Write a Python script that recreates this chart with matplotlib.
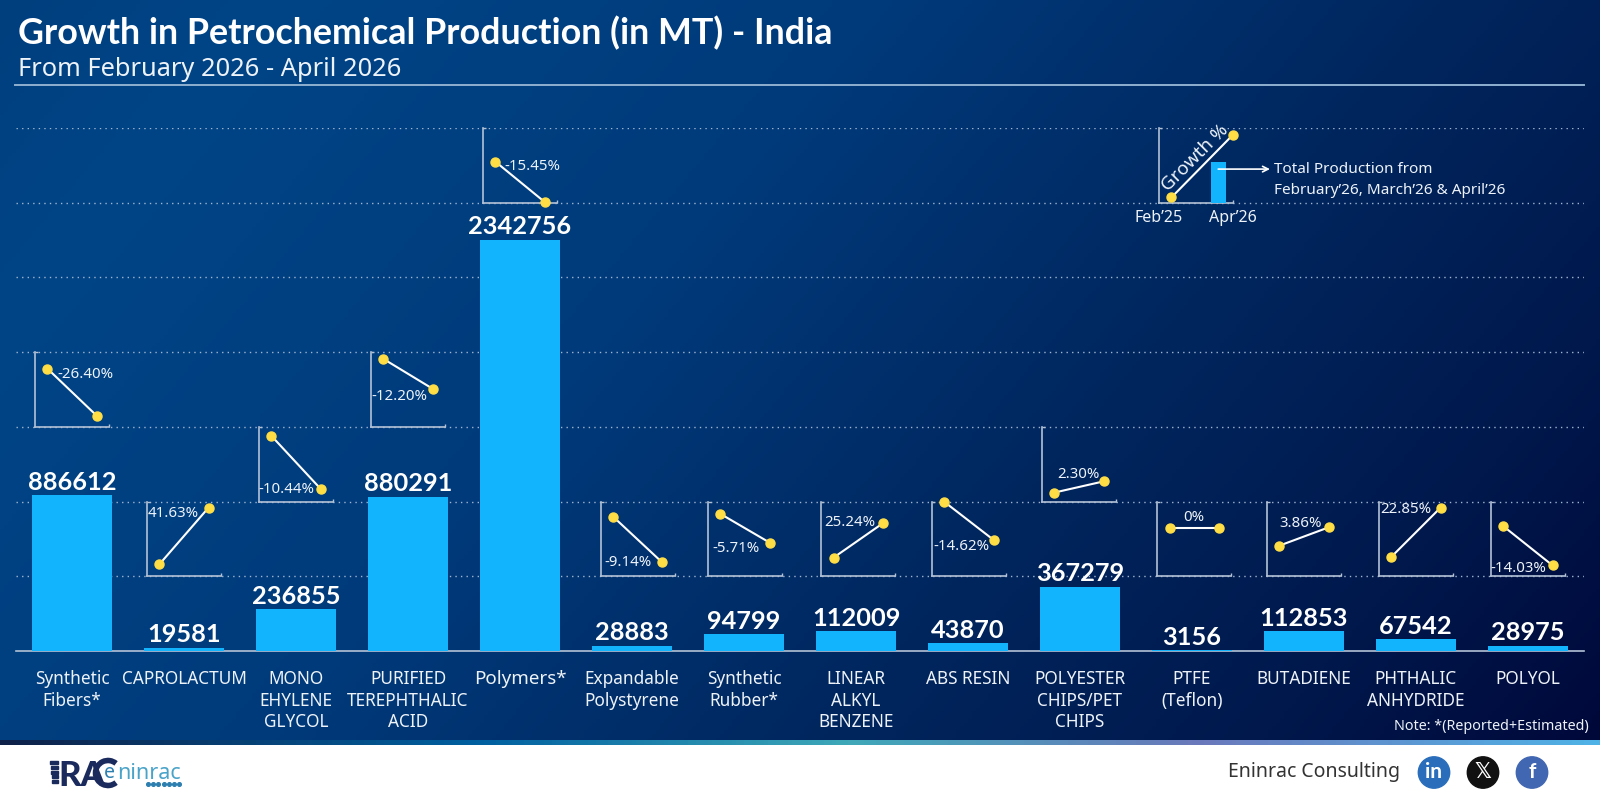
import numpy as np
import matplotlib
matplotlib.use("Agg")
import matplotlib.pyplot as plt
from matplotlib.colors import LinearSegmentedColormap
from matplotlib.patches import Circle, Rectangle, Arc

plt.rcParams['font.family'] = ['Noto Sans', 'DejaVu Sans']

# %% data
categories = ["Synthetic\nFibers*", "CAPROLACTUM", "MONO\nEHYLENE\nGLYCOL", "PURIFIED\nTEREPHTHALIC\nACID",
              "Polymers*", "Expandable\nPolystyrene", "Synthetic\nRubber*", "LINEAR\nALKYL\nBENZENE",
              "ABS RESIN", "POLYESTER\nCHIPS/PET\nCHIPS", "PTFE\n(Teflon)", "BUTADIENE",
              "PHTHALIC\nANHYDRIDE", "POLYOL"]
production = [886612, 19581, 236855, 880291, 2342756, 28883, 94799, 112009, 43870, 367279, 3156, 112853, 67542, 28975]
growth_labels = ["-26.40%", "41.63%", "-10.44%", "-12.20%", "-15.45%", "-9.14%", "-5.71%", "25.24%",
                 "-14.62%", "2.30%", "0%", "3.86%", "22.85%", "-14.03%"]
# first and last point of every small trend line, as a share of its box height
trend_start = [0.78, 0.16, 0.88, 0.91, 0.55, 0.80, 0.835, 0.25, 0.995, 0.12, 0.65, 0.41, 0.26, 0.67]
trend_end = [0.15, 0.92, 0.17, 0.51, 0.01, 0.185, 0.45, 0.71, 0.485, 0.27, 0.65, 0.655, 0.92, 0.145]
key_trend = [0.07, 0.91]
key_bar = 0.55

# which gridline each box sits on, and where its label goes
box_level = [3, 1, 2, 3, 6, 1, 1, 1, 1, 2, 1, 1, 1, 1]
box_shift = [0, 0, 0, 0, 0, 0.05, 0.01, 0.02, 0.01, -0.01, 0.02, 0, 0, 0]
label_x = [0.68, 0.35, 0.37, 0.39, 0.67, 0.375, 0.37, 0.39, 0.395, 0.495, 0.495, 0.455, 0.36, 0.375]
label_y = [0.70, 0.84, 0.155, 0.405, 0.49, 0.19, 0.37, 0.715, 0.395, 0.365, 0.785, 0.71, 0.89, 0.105]

BAR = "#12b5fd"
TEXT = "#eef3f9"
YELLOW = "#ffdd45"
FRAME = "#b4c2d6"
grid_step = 425886

fig = plt.figure(figsize=(16, 8), dpi=100)

# %% page background, in pixels
page = fig.add_axes([0, 0, 1, 1], zorder=0)
page.axis("off")

xx, yy = np.meshgrid(np.linspace(0, 1, 400), np.linspace(0, 1, 200))
bg_cmap = LinearSegmentedColormap.from_list("bg", [(0, "#003f7e"), (0.12, "#004587"), (0.4, "#003a7a"),
                                                   (0.65, "#00265e"), (0.85, "#00184c"), (1, "#00083a")])
page.imshow(0.72 * xx + 0.28 * yy, cmap=bg_cmap, vmin=0, vmax=1, extent=[0, 1600, 745, 0], aspect="auto")
strip_cmap = LinearSegmentedColormap.from_list("strip", [(0, "#0e2148"), (0.3, "#0060a0"), (0.53, "#3fa8b8"),
                                                         (0.75, "#6a78bb"), (1, "#4fb2e6")])
page.imshow(np.linspace(0, 1, 400)[None, :], cmap=strip_cmap, extent=[0, 1600, 745, 740], aspect="auto")
page.set_xlim(0, 1600)
page.set_ylim(800, 0)

page.text(18.5, 44, "Growth in Petrochemical Production (in MT) - India", color="white",
          fontsize=25.8, fontweight="bold", family="Lato", va="baseline")
page.text(18.5, 76, "From February 2026 - April 2026", color=TEXT, fontsize=18.3, va="baseline")
page.plot([15, 1584], [85, 85], color="#8fb0d0", lw=1.4)
page.text(1589, 727, "Note: *(Reported+Estimated)", color=TEXT, fontsize=10.3, ha="right", va="center")

# logo
for k in range(5):
    page.add_patch(Rectangle((50 + k * 0.6, 761 + k * 4.8), 8 - k * 0.6, 3, color="#1b2a5c"))
page.text(58, 786, "RA", color="#1b2a5c", fontsize=25, fontweight="black", family="Lato", va="baseline")
page.add_patch(Arc((108, 773), 25, 25, theta1=50, theta2=310, color="#1b2a5c", lw=4))
page.text(104, 778, "e", color="#2d7fb0", fontsize=14, va="baseline")
page.text(117, 779, "ninrac", color="#4aa3c8", fontsize=15.5, va="baseline")
page.scatter(np.linspace(148, 179, 7), [784] * 7, s=7, color="#2d7fb0")

# footer name and icons
page.text(1228, 772, "Eninrac Consulting", color="#333333", fontsize=14, va="center")
for cx, col, mark, fam in [(1434, "#2a6ebb", "in", "Lato"), (1483, "#111111", "\U0001D54F", "DejaVu Sans"),
                           (1532, "#4267b2", "f", "Lato")]:
    page.add_patch(Circle((cx, 772.5), 15.7, color=col))
    page.text(cx, 772, mark, color="white", fontsize=15, fontweight="bold", ha="center", va="center", family=fam)

# %% main bars
ax = fig.add_axes([16 / 1600, 149 / 800, 1568 / 1600, 523 / 800], zorder=1)
ax.patch.set_alpha(0)
ax.set_xlim(-0.5, 13.5)
ax.set_ylim(0, 7 * grid_step)
for side in ["top", "left", "right"]:
    ax.spines[side].set_visible(False)
ax.spines["bottom"].set_color("#b4c2d6")
ax.spines["bottom"].set_linewidth(1.2)

ax.set_yticks(np.arange(1, 8) * grid_step)
ax.set_yticklabels([])
ax.tick_params(axis="y", length=0)
ax.grid(axis="y", color="#9fb4cf", lw=1, ls=(0, (1, 3)))
ax.set_axisbelow(True)

ax.bar(range(14), production, width=0.72, color=BAR, zorder=3)
for i, v in enumerate(production):
    ax.annotate(str(v), (i, v), xytext=(0, 4), textcoords="offset points", ha="center", va="baseline",
                color="white", fontsize=18.3, fontweight="bold", family="Lato", zorder=4)

ax.set_xticks(range(14))
ax.set_xticklabels(categories, color=TEXT, fontsize=12.4, linespacing=1.25)
ax.tick_params(axis="x", length=0, pad=14)
ax.get_xticklabels()[4].set_fontsize(13.5)


def small_box(pos, start, end, x0=-0.25, x1=1.25):
    # little L shaped chart with a two point trend line
    box = ax.inset_axes(pos, transform=ax.transData, zorder=5)
    box.patch.set_alpha(0)
    box.set_xlim(x0, x1)
    box.set_ylim(0, 1)
    for side in ["top", "right"]:
        box.spines[side].set_visible(False)
    for side in ["left", "bottom"]:
        box.spines[side].set_color(FRAME)
        box.spines[side].set_linewidth(1.2)
    box.set_xticks([x1])
    box.set_yticks([1])
    box.set_xticklabels([])
    box.set_yticklabels([])
    box.tick_params(direction="in", length=2, width=1, color=FRAME)
    box.plot([0, 1], [start, end], color="white", lw=1.5, marker="o", ms=6.5, mfc=YELLOW, mec=YELLOW,
             clip_on=False, zorder=6)
    return box


for i in range(14):
    box = small_box([i - 0.33 + box_shift[i], box_level[i] * grid_step, 0.66, grid_step],
                    trend_start[i], trend_end[i])
    box.text(label_x[i], label_y[i], growth_labels[i], transform=box.transAxes, color=TEXT, fontsize=10.8,
             ha="center", va="center", zorder=7)

# %% key, top right
key = small_box([10.036 - 0.33, 6 * grid_step, 0.66, grid_step], key_trend[0], key_trend[1], x0=-0.2, x1=1.0)
key.bar(0.765, key_bar, width=0.245, color=BAR, zorder=4)
key.text(0.49, 0.60, "Growth %", transform=key.transAxes, color=TEXT, fontsize=13.5, rotation=45,
         ha="center", va="center", zorder=7)
key.text(0, -0.2, "Feb\u201925", transform=key.transAxes, color=TEXT, fontsize=11.5, ha="center", va="center")
key.text(1, -0.2, "Apr\u201926", transform=key.transAxes, color=TEXT, fontsize=11.5, ha="center", va="center")
key.annotate("", xy=(1.50, 0.45), xytext=(0.80, 0.45), xycoords="axes fraction",
             arrowprops=dict(arrowstyle="->", color="white", lw=1.2, shrinkA=0, shrinkB=0), zorder=8)
key.text(1.55, 0.44, "Total Production from", transform=key.transAxes, color=TEXT, fontsize=11, va="center")
key.text(1.55, 0.17, "February\u201926, March\u201926 & April\u201926", transform=key.transAxes, color=TEXT,
         fontsize=11, va="center")

fig.savefig("out.png", dpi=100)
